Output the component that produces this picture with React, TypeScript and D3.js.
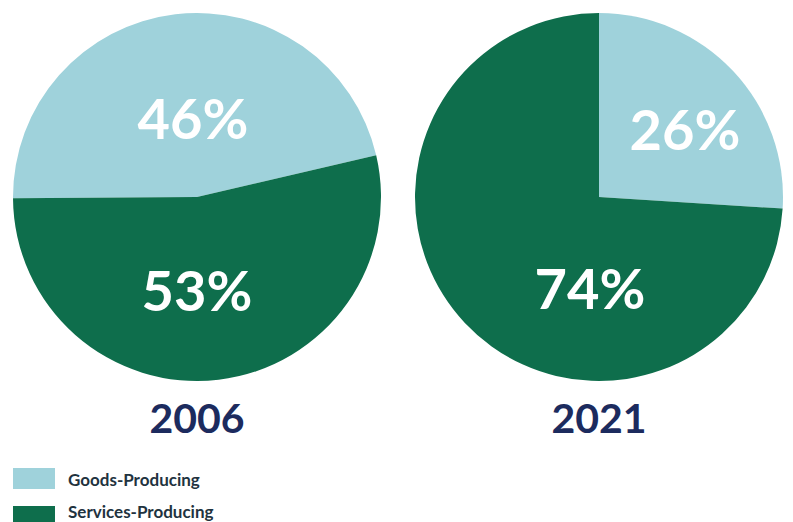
import React from "react";
import * as d3 from "d3";

const categories = ["Goods-Producing", "Services-Producing"];
const years = ["2006", "2021"];
const values2006 = [46, 53];
const values2021 = [26, 74];
const labels2006 = ["46%", "53%"];
const labels2021 = ["26%", "74%"];

const COLORS = ["#9fd2db", "#0e6e4c"];
const NAVY = "#1c2b5e";
const W = 793;
const H = 522;
const R = 184;

type PieSpec = {
  cx: number;
  cy: number;
  values: number[];
  labels: string[];
  year: string;
  startDeg: number;
  labelPos: [number, number][];
};

const pies: PieSpec[] = [
  {
    cx: 197,
    cy: 197,
    values: values2006,
    labels: labels2006,
    year: years[0],
    startDeg: -90.4,
    labelPos: [
      [-4, -80],
      [0, 92],
    ],
  },
  {
    cx: 599,
    cy: 197,
    values: values2021,
    labels: labels2021,
    year: years[1],
    startDeg: 0,
    labelPos: [
      [86, -69],
      [-9, 90],
    ],
  },
];

export default function App() {
  const arc = d3.arc<d3.PieArcDatum<number>>().innerRadius(0).outerRadius(R);
  const font = "Lato, 'Open Sans', sans-serif";
  return (
    <svg
      width={W}
      height={H}
      style={{ position: "absolute", left: 0, top: 0, background: "#fff" }}
    >
      {pies.map((p, pi) => {
        const s = (p.startDeg * Math.PI) / 180;
        const pie = d3
          .pie<number>()
          .sort(null)
          .startAngle(s)
          .endAngle(s + 2 * Math.PI);
        const arcs = pie(p.values);
        return (
          <g key={pi} transform={`translate(${p.cx},${p.cy})`}>
            {arcs.map((a, i) => (
              <path key={i} d={arc(a) || ""} fill={COLORS[i]} />
            ))}
            {p.labels.map((l, i) => (
              <text
                key={l}
                x={p.labelPos[i][0]}
                y={p.labelPos[i][1]}
                textAnchor="middle"
                dominantBaseline="central"
                fill="#fff"
                fontFamily={font}
                fontWeight={700}
                fontSize={56}
              >
                {l}
              </text>
            ))}
            <text
              x={0}
              y={236}
              textAnchor="middle"
              fill={NAVY}
              fontFamily={font}
              fontWeight={700}
              fontSize={41}
            >
              {p.year}
            </text>
          </g>
        );
      })}
      {categories.map((c, i) => (
        <g key={c}>
          <rect x={13} y={468 + i * 38} width={42} height={21} fill={COLORS[i]} />
          <text
            x={68}
            y={486 + i * 32}
            fill="#1f3340"
            fontFamily={font}
            fontWeight={700}
            fontSize={17}
          >
            {c}
          </text>
        </g>
      ))}
    </svg>
  );
}
